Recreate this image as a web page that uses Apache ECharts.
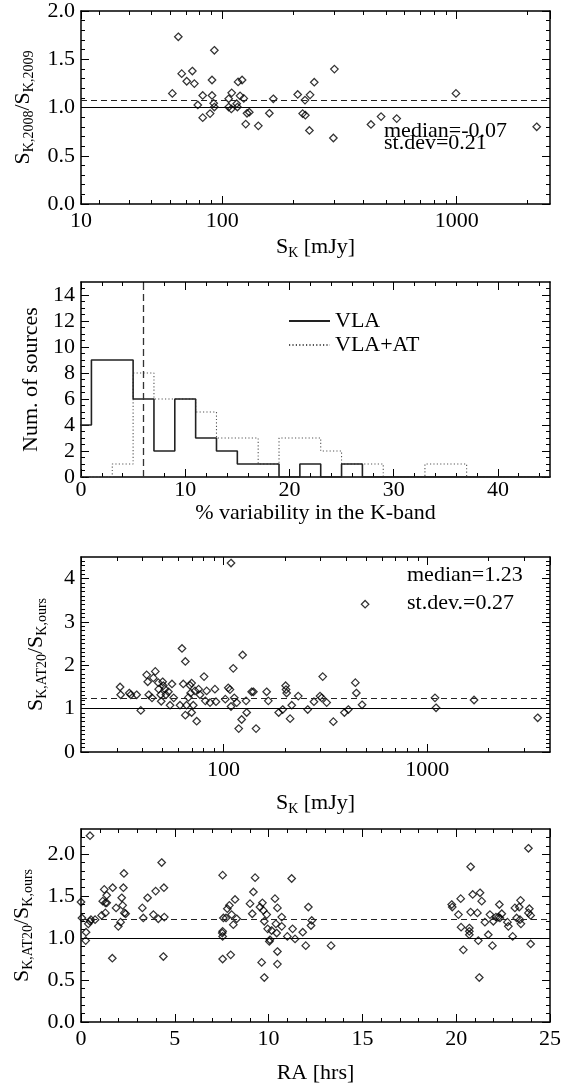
<!DOCTYPE html>
<html><head><meta charset="utf-8">
<script src="https://cdn.jsdelivr.net/npm/echarts@6/dist/echarts.min.js"></script>
<style>html,body{margin:0;padding:0;background:#fff}#c{width:569px;height:1085px}</style>
</head><body><div id="c"></div>
<script>
// ---------------- Panel 1 data ----------------
const p1S = [61.3,65.0,67.2,70.6,74.6,76.1,78.7,82.6,82.6,88.8,90.5,90.5,92.6,92.0,92.6,106.6,106.6,109.8,109.4,115.3,116.1,116.9,119.2,121.6,123.6,126.0,127.6,130.5,142.6,158.9,165.2,209.9,220.4,226.3,225.5,237,235.5,247,298,301,431,476,555,993,2194];
const p1Ratio = [1.146,1.733,1.351,1.272,1.378,1.248,1.026,1.125,0.895,0.937,1.125,1.285,1.593,1.043,1.005,1.005,1.090,1.152,0.985,1.039,1.005,1.265,1.121,1.285,1.094,0.828,0.940,0.951,0.810,0.940,1.090,1.135,0.937,0.920,1.077,1.131,0.762,1.262,0.684,1.398,0.824,0.906,0.885,1.146,0.800];
const p1Dashed = 1.08;
const p1Stats = ['median=-0.07', 'st.dev=0.21'];
const p1XEdgeLabel = '10';
const p1XMinor = [30,40,50,60,70,80,90,200,300,400,500,600,700,800,900,2000];
const p1YMajor = [0,0.5,1,1.5,2];
const p1YMinor = [0.1,0.2,0.3,0.4,0.6,0.7,0.8,0.9,1.1,1.2,1.3,1.4,1.6,1.7,1.8,1.9];

// ---------------- Panel 2 data ----------------
const p2BinLeft = [-1,1,3,5,7,9,11,13,15,17,19,21,23,25,27,29,31,33,35,37,39,41,43];
const p2BinEnd = 45;
const p2VLA   = [4,9,9,6,2,6,3,2,1,1,0,1,0,1,0,0,0,0,0,0,0,0,0];
const p2VLAAT = [0,0,1,8,6,6,5,3,3,1,3,3,2,1,1,0,0,1,1,0,0,0,0];
const p2Cut = 6;
const p2XMajor = [0,10,20,30,40];
const p2XMinor = [2,4,6,8,12,14,16,18,22,24,26,28,32,34,36,38,42,44];
const p2YMajor = [0,2,4,6,8,10,12,14];
const p2YMinor = [0.5,1,1.5,2.5,3,3.5,4.5,5,5.5,6.5,7,7.5,8.5,9,9.5,10.5,11,11.5,12.5,13,13.5,14.5];

// ---------------- Panel 3 data ----------------
const p3S = [31.1,31.3,34.5,35.1,37.5,39.3,42.0,42.5,43.0,44.6,45.3,46.3,47.9,48.1,49.2,49.5,50.3,50.7,51.6,52.2,53.7,54.7,55.9,57.0,61.2,62.6,63.5,65.0,65.0,65.9,67.3,68.5,69.8,69.0,69.8,71.1,72.5,73.9,75.5,76.7,80.3,81.5,82.7,85.9,90.8,91.9,102.1,105.6,107.6,108.9,108.9,111.7,113.0,116.1,118.8,122.8,124.2,129.1,130.0,137.5,140.2,144.5,162.9,166.0,186.6,195.2,201.8,202.8,204.2,212.3,216.3,232.8,259,278,297.7,303.4,306.9,320.9,346,392,409.6,443.6,448.7,478.6,495.4,1091,1104,1696,3481];
const p3Ratio = [1.50,1.32,1.36,1.32,1.32,0.96,1.78,1.62,1.32,1.25,1.71,1.86,1.60,1.45,1.32,1.17,1.62,1.53,1.45,1.32,1.39,1.08,1.57,1.25,1.08,2.39,1.57,2.09,0.85,1.08,1.26,1.54,1.59,1.36,0.91,1.08,1.41,0.71,1.45,1.32,1.74,1.18,1.41,1.14,1.45,1.16,1.22,1.48,1.44,1.05,4.36,1.93,1.25,1.14,0.54,0.75,2.24,1.18,0.91,1.39,1.39,0.54,1.39,1.18,0.91,0.98,1.53,1.44,1.36,0.77,1.08,1.29,0.98,1.16,1.29,1.25,1.74,1.14,0.70,0.91,0.98,1.60,1.36,1.09,3.41,1.25,1.02,1.20,0.79];
const p3Dashed = 1.23;
const p3Stats = ['median=1.23', 'st.dev.=0.27'];
const p3XMinor = [30,40,50,60,70,80,90,200,300,400,500,600,700,800,900,2000,3000];
const p3YMajor = [0,1,2,3,4];
const p3YMinor = [0.1,0.2,0.3,0.4,0.5,0.6,0.7,0.8,0.9,1.1,1.2,1.3,1.4,1.5,1.6,1.7,1.8,1.9,2.1,2.2,2.3,2.4,2.5,2.6,2.7,2.8,2.9,3.1,3.2,3.3,3.4,3.5,3.6,3.7,3.8,3.9,4.1,4.2,4.3,4.4];

// ---------------- Panel 4 data ----------------
const p4RA = [0.48,0.00,0.05,0.27,0.25,0.39,0.48,0.53,0.75,1.10,1.16,1.24,1.30,1.30,1.37,1.37,1.67,1.69,1.87,1.99,2.11,2.17,2.22,2.26,2.29,2.31,2.38,3.27,3.32,3.55,3.86,3.98,4.12,4.30,4.42,4.44,4.39,7.55,7.55,7.53,7.55,7.55,7.59,7.73,7.80,7.91,7.98,8.03,8.12,8.21,8.30,9.01,9.13,9.19,9.28,9.54,9.63,9.67,9.72,9.77,9.77,9.90,9.95,10.04,10.07,10.16,10.34,10.39,10.43,10.47,10.47,10.47,10.70,10.70,11.00,11.23,11.28,11.41,11.82,11.98,12.12,12.26,12.30,13.33,19.76,19.79,20.12,20.24,20.26,20.38,20.70,20.70,20.70,20.77,20.77,20.88,21.13,21.18,21.23,21.27,21.36,21.53,21.71,21.80,21.93,21.98,22.12,22.25,22.30,22.33,22.43,22.73,22.78,23.01,23.13,23.22,23.36,23.40,23.43,23.45,23.85,23.85,23.90,23.97,23.97];
const p4Ratio = [2.22,1.43,1.24,1.07,0.97,1.17,1.20,1.22,1.22,1.27,1.44,1.58,1.42,1.30,1.51,1.42,0.76,1.60,1.36,1.14,1.19,1.48,1.39,1.60,1.77,1.30,1.29,1.36,1.24,1.48,1.28,1.56,1.23,1.90,1.60,1.25,0.78,1.75,1.08,1.06,1.02,0.75,1.24,1.24,1.35,1.39,0.80,1.28,1.16,1.46,1.23,1.41,1.29,1.55,1.72,1.37,0.71,1.42,1.33,0.53,1.20,1.28,1.11,0.96,0.98,1.09,1.47,1.17,1.06,1.36,0.84,0.69,1.14,1.25,1.02,1.71,1.11,0.99,1.07,0.91,1.37,1.15,1.21,0.91,1.40,1.37,1.28,1.47,1.13,0.86,1.12,1.08,1.04,1.85,1.31,1.52,1.30,0.97,0.53,1.54,1.44,1.19,1.04,1.28,0.91,1.20,1.25,1.25,1.40,1.24,1.29,1.19,1.14,1.02,1.36,1.24,1.37,1.22,1.45,1.17,2.07,1.30,1.35,1.27,0.93];
const p4Dashed = 1.23;
const p4XMajor = [0,5,10,15,20,25];
const p4XMinor = [1,2,3,4,6,7,8,9,11,12,13,14,16,17,18,19,21,22,23,24];
const p4YMajor = [0,0.5,1,1.5,2];
const p4YMinor = [0.1,0.2,0.3,0.4,0.6,0.7,0.8,0.9,1.1,1.2,1.3,1.4,1.6,1.7,1.8,1.9,2.1,2.2];

// ---------------- styling / helpers ----------------
const FONT = '"Liberation Serif","Times New Roman",serif';
const MAJ = 8, MIN = 4;
const xAxes = [], yAxes = [];
const tickStyle = {color: '#000', width: 1};

function baseAxis(type, g, pos, min, max) {
  return {type, gridIndex: g, position: pos, min, max,
    axisLine: {show: false, onZero: false, lineStyle: {color: '#000', width: 1.5}},
    axisTick: {show: false}, axisLabel: {show: false},
    splitLine: {show: false}, minorTick: {show: false}, minorSplitLine: {show: false},
    silent: true, axisPointer: {show: false}};
}
function addAxisSet(list, g, s, posA, posB) {
  const log = s.type === 'log';
  const A = baseAxis(s.type, g, posA, s.min, s.max);
  A.axisLine.show = true;
  A.axisTick = {show: true, inside: true, length: MAJ, lineStyle: tickStyle};
  A.axisLabel = {show: true, fontFamily: FONT, fontSize: 22, color: '#000', margin: s.margin, formatter: s.fmt};
  if (log) { A.logBase = 10; A.axisLabel.showMinLabel = !!s.minLabel; A.axisLabel.showMaxLabel = false; }
  else { A.axisTick.customValues = s.majors; A.axisLabel.customValues = s.majors; }
  if (s.name) {
    A.name = s.name; A.nameLocation = 'middle'; A.nameGap = s.nameGap;
    A.nameTextStyle = {fontFamily: FONT, fontSize: 22, color: '#000', rich: titleRich};
  }
  const idx = list.push(A) - 1;
  const B = baseAxis(s.type, g, posB, s.min, s.max);
  B.axisLine.show = true;
  B.axisTick = {show: true, inside: true, length: MAJ, lineStyle: tickStyle};
  if (log) B.logBase = 10; else B.axisTick.customValues = s.majors;
  list.push(B);
  const mmin = log ? Math.log10(s.min) : s.min, mmax = log ? Math.log10(s.max) : s.max;
  const mv = log ? s.minors.map(v => Math.log10(v)) : s.minors;
  [posA, posB].forEach(p => {
    const M = baseAxis('value', g, p, mmin, mmax);
    M.axisTick = {show: true, inside: true, length: MIN, lineStyle: tickStyle, customValues: mv};
    list.push(M);
  });
  return idx;
}
const titleRich = {
  s: {fontFamily: FONT, fontSize: 22, color: '#000', lineHeight: 26, verticalAlign: 'middle'},
  b: {fontFamily: FONT, fontSize: 14, color: '#000', lineHeight: 14, verticalAlign: 'bottom'}
};
const fmt1 = v => Number(v).toFixed(1);
const fmt0 = v => String(Math.round(v));
const zip = (a, b) => a.map((v, i) => [v, b[i]]);

const grids = [
  {left: 81, top: 9, width: 469, height: 195},
  {left: 81, top: 282, width: 469, height: 195},
  {left: 81, top: 557, width: 469, height: 195},
  {left: 81, top: 829, width: 469, height: 196}
];

// panel 1 axes (the reference prints "10" at the left end of this axis)
const p1XMin = 25, p1XMax = 2500;
const x1 = addAxisSet(xAxes, 0, {type: 'log', min: p1XMin, max: p1XMax, minors: p1XMinor, margin: 6, minLabel: true,
  fmt: v => (Math.abs(v - p1XMin) < 1e-6 ? p1XEdgeLabel : String(Math.round(v))),
  name: '{s|S}{b|K}{s| [mJy]}', nameGap: 30}, 'bottom', 'top');
const y1 = addAxisSet(yAxes, 0, {type: 'value', min: 0, max: 2, majors: p1YMajor, minors: p1YMinor, margin: 6, fmt: fmt1,
  name: '{s|S}{b|K,2008}{s|/S}{b|K,2009}', nameGap: 44}, 'left', 'right');
// panel 2 axes
const x2 = addAxisSet(xAxes, 1, {type: 'value', min: 0, max: 45, majors: p2XMajor, minors: p2XMinor, margin: 2, fmt: fmt0,
  name: '% variability in the K-band', nameGap: 22}, 'bottom', 'top');
const y2 = addAxisSet(yAxes, 1, {type: 'value', min: 0, max: 15, majors: p2YMajor, minors: p2YMinor, margin: 6, fmt: fmt0,
  name: 'Num. of sources', nameGap: 39}, 'left', 'right');
// panel 3 axes
const x3 = addAxisSet(xAxes, 2, {type: 'log', min: 20, max: 4000, minors: p3XMinor, margin: 7, fmt: fmt0,
  name: '{s|S}{b|K}{s| [mJy]}', nameGap: 38}, 'bottom', 'top');
const y3 = addAxisSet(yAxes, 2, {type: 'value', min: 0, max: 4.5, majors: p3YMajor, minors: p3YMinor, margin: 6, fmt: fmt0,
  name: '{s|S}{b|K,AT20}{s|/S}{b|K,ours}', nameGap: 32}, 'left', 'right');
// panel 4 axes
const x4 = addAxisSet(xAxes, 3, {type: 'value', min: 0, max: 25, majors: p4XMajor, minors: p4XMinor, margin: 6, fmt: fmt0,
  name: 'RA [hrs]', nameGap: 40}, 'bottom', 'top');
const y4 = addAxisSet(yAxes, 3, {type: 'value', min: 0, max: 2.3, majors: p4YMajor, minors: p4YMinor, margin: 6, fmt: fmt1,
  name: '{s|S}{b|K,AT20}{s|/S}{b|K,ours}', nameGap: 46}, 'left', 'right');

const diamond = {symbol: 'diamond', symbolSize: 7.5,
  itemStyle: {color: 'rgba(255,255,255,0)', borderColor: '#000', borderWidth: 1.25}};
function refLines(dashed) {
  return {silent: true, symbol: 'none', label: {show: false},
    lineStyle: {color: '#000', width: 1.2, type: 'solid'},
    data: [{yAxis: 1}, {yAxis: dashed, lineStyle: {type: [6, 4], color: '#222'}}]};
}
function stepData(edges, end, counts) {
  const d = edges.map((e, i) => [e, counts[i]]);
  d.push([end, counts[counts.length - 1]]);
  return d;
}

const series = [
  Object.assign({type: 'scatter', name: 'p1', xAxisIndex: x1, yAxisIndex: y1, data: zip(p1S, p1Ratio),
    markLine: refLines(p1Dashed), z: 3}, diamond),
  {type: 'line', name: 'VLA', xAxisIndex: x2, yAxisIndex: y2, step: 'end', symbol: 'none', color: '#222',
    data: stepData(p2BinLeft, p2BinEnd, p2VLA), lineStyle: {color: '#222', width: 1.6, type: 'solid'}, z: 4,
    markLine: {silent: true, symbol: 'none', label: {show: false},
      lineStyle: {color: '#333', width: 1.3, type: [7, 4]}, data: [{xAxis: p2Cut}]}},
  {type: 'line', name: 'VLA+AT', xAxisIndex: x2, yAxisIndex: y2, step: 'end', symbol: 'none', color: '#555',
    data: stepData(p2BinLeft, p2BinEnd, p2VLAAT), lineStyle: {color: '#555', width: 1.1, type: [1.2, 2.2]}, z: 3},
  Object.assign({type: 'scatter', name: 'p3', xAxisIndex: x3, yAxisIndex: y3, data: zip(p3S, p3Ratio),
    markLine: refLines(p3Dashed), z: 3}, diamond),
  Object.assign({type: 'scatter', name: 'p4', xAxisIndex: x4, yAxisIndex: y4, data: zip(p4RA, p4Ratio),
    markLine: refLines(p4Dashed), z: 3}, diamond)
];

const statStyle = t => ({text: t, fontFamily: FONT, fontSize: 22, fill: '#000', verticalAlign: 'middle', align: 'left'});
const option = {
  animation: false,
  backgroundColor: '#fff',
  grid: grids,
  xAxis: xAxes,
  yAxis: yAxes,
  legend: {data: ['VLA', 'VLA+AT'], orient: 'vertical', left: 283, top: 305, itemWidth: 41, itemHeight: 14,
    itemGap: 2, selectedMode: false, itemStyle: {opacity: 0, borderWidth: 0},
    textStyle: {fontFamily: FONT, fontSize: 22, color: '#000'}},
  graphic: [
    {type: 'text', x: 384, y: 131.5, style: statStyle(p1Stats[0])},
    {type: 'text', x: 384, y: 143.5, style: statStyle(p1Stats[1])},
    {type: 'text', x: 407, y: 575.5, style: statStyle(p3Stats[0])},
    {type: 'text', x: 407, y: 603.5, style: statStyle(p3Stats[1])}
  ],
  series
};
const chart = echarts.init(document.getElementById('c'), null, {renderer: 'canvas'});
chart.setOption(option);
</script></body></html>
